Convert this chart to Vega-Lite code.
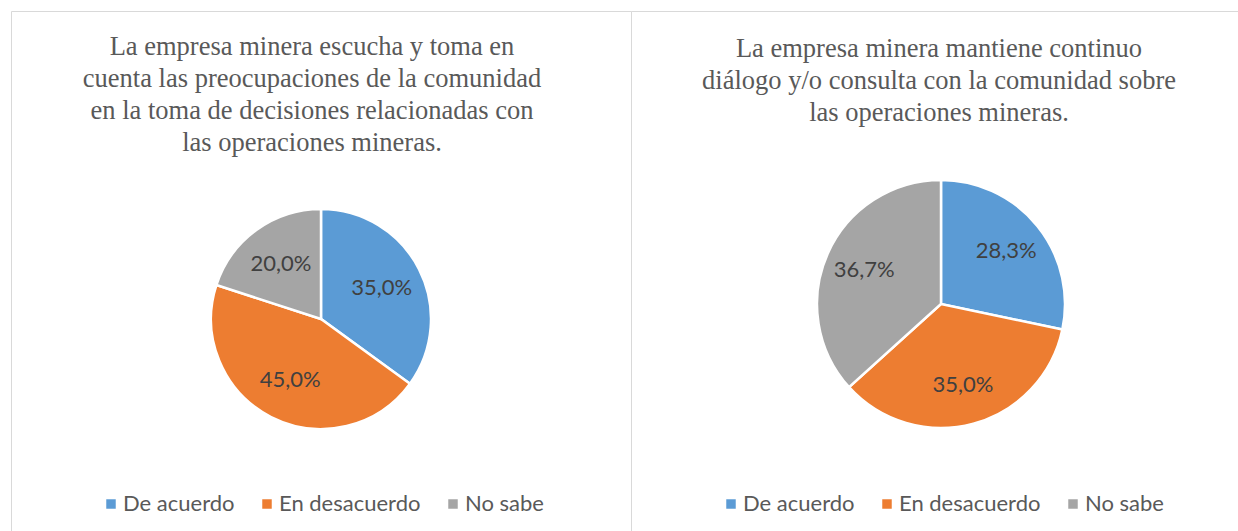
{
  "$schema": "https://vega.github.io/schema/vega-lite/v6.json",
  "padding": {"left": 10, "top": 10, "right": 0, "bottom": 0},
  "background": "white",
  "spacing": 0,
  "bounds": "flush",
  "datasets": {
    "p1": [
      {"respuesta": "De acuerdo", "orden": 1, "pct": 35.0, "label": "35,0%"},
      {"respuesta": "En desacuerdo", "orden": 2, "pct": 45.0, "label": "45,0%"},
      {"respuesta": "No sabe", "orden": 3, "pct": 20.0, "label": "20,0%"}
    ],
    "p2": [
      {"respuesta": "De acuerdo", "orden": 1, "pct": 28.3, "label": "28,3%"},
      {"respuesta": "En desacuerdo", "orden": 2, "pct": 35.0, "label": "35,0%"},
      {"respuesta": "No sabe", "orden": 3, "pct": 36.7, "label": "36,7%"}
    ]
  },
  "config": {
    "view": {"stroke": "#d9d9d9", "strokeWidth": 1},
    "title": {"font": "Times New Roman", "fontSize": 26.5, "fontWeight": "normal", "color": "#595959", "anchor": "middle", "lineHeight": 32, "frame": "group"},
    "legend": {"orient": "none", "direction": "horizontal", "legendX": 89, "legendY": 482, "title": null, "symbolType": "square", "symbolSize": 90, "symbolStrokeWidth": 0, "labelFont": "Lato", "labelFontSize": 22, "labelColor": "#595959", "labelOffset": 1, "columnPadding": 21, "labelLimit": 300}
  },
  "hconcat": [
    {
      "width": 620,
      "height": 616,
      "view": {"stroke": "#d9d9d9", "strokeWidth": 1, "fill": "white"},
      "title": {"text": ["La empresa minera escucha y toma en", "cuenta las preocupaciones de la comunidad", "en la toma de decisiones relacionadas con", "las operaciones mineras."], "offset": -145, "dx": -9},
      "data": {"name": "p1"},
      "encoding": {
        "theta": {"field": "pct", "type": "quantitative", "stack": true},
        "order": {"field": "orden", "type": "ordinal"},
        "color": {"field": "respuesta", "type": "nominal", "sort": ["De acuerdo", "En desacuerdo", "No sabe"], "scale": {"domain": ["De acuerdo", "En desacuerdo", "No sabe"], "range": ["#5B9BD5", "#ED7D31", "#A5A5A5"]}}
      },
      "layer": [
        {"mark": {"type": "arc", "outerRadius": 110, "stroke": "white", "strokeWidth": 2.5}},
        {"mark": {"type": "text", "radius": 68, "font": "Lato", "fontSize": 22, "color": "#404040"}, "encoding": {"text": {"field": "label"}, "color": {"value": "#404040"}}}
      ]
    },
    {
      "width": 620,
      "height": 586,
      "view": {"stroke": "#d9d9d9", "strokeWidth": 1, "fill": "white"},
      "title": {"text": ["La empresa minera mantiene continuo", "diálogo y/o consulta con la comunidad sobre", "las operaciones mineras."], "offset": -115, "dx": -2},
      "data": {"name": "p2"},
      "encoding": {
        "theta": {"field": "pct", "type": "quantitative", "stack": true},
        "order": {"field": "orden", "type": "ordinal"},
        "color": {"field": "respuesta", "type": "nominal", "sort": ["De acuerdo", "En desacuerdo", "No sabe"], "scale": {"domain": ["De acuerdo", "En desacuerdo", "No sabe"], "range": ["#5B9BD5", "#ED7D31", "#A5A5A5"]}}
      },
      "layer": [
        {"mark": {"type": "arc", "outerRadius": 124, "stroke": "white", "strokeWidth": 2.5}},
        {"mark": {"type": "text", "radius": 84, "font": "Lato", "fontSize": 22, "color": "#404040"}, "encoding": {"text": {"field": "label"}, "color": {"value": "#404040"}}}
      ]
    }
  ],
  "resolve": {"scale": {"color": "independent"}, "legend": {"color": "independent"}}
}
